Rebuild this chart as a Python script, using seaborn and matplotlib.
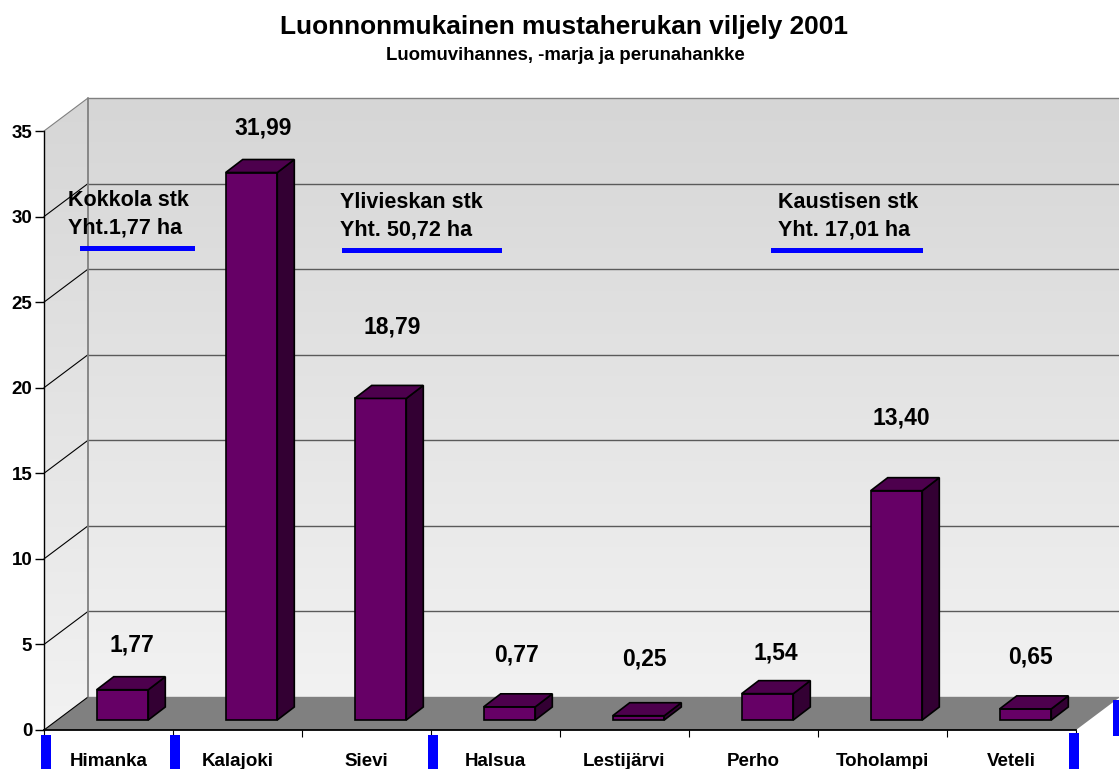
import numpy as np
import pandas as pd
import matplotlib
matplotlib.use('Agg')
import matplotlib.pyplot as plt
from matplotlib.patches import Polygon, Rectangle
import seaborn as sns

# data
places = ['Himanka', 'Kalajoki', 'Sievi', 'Halsua', 'Lestijärvi', 'Perho', 'Toholampi', 'Veteli']
hectares = [1.77, 31.99, 18.79, 0.77, 0.25, 1.54, 13.40, 0.65]
value_labels = ['1,77', '31,99', '18,79', '0,77', '0,25', '1,54', '13,40', '0,65']
y_ticks = [0, 5, 10, 15, 20, 25, 30, 35]

# label placement in pixels, relative to the bar top
label_gap = [45, 45, 71, 52, 57, 41, 73, 52]
label_shift = [9, 12, 12, 7, 6, 8, 5, 5]

W, H = 1119, 769
sns.set_theme(style='white')
plt.rcParams['font.family'] = ['Liberation Sans', 'DejaVu Sans']
plt.rcParams['font.weight'] = 'bold'

fig = plt.figure(figsize=(W / 100, H / 100), dpi=100)
ax = fig.add_axes([44 / W, (H - 730) / H, 1032 / W, 599 / H])

df = pd.DataFrame({'place': places, 'ha': hectares})
sns.barplot(data=df, x='place', y='ha', order=places, width=0.4, color='#660066',
            saturation=1, edgecolor='black', linewidth=1.2, zorder=5, ax=ax)
ax.set_xlim(-0.5, 7.5)
ax.set_ylim(0, 35)

# pixel sizes in data units, the 3d look is sheared from these
px_x = 1032 / 8
px_y = 599 / 35
wall_dx, wall_dy = 44 / px_x, 33 / px_y
shift_x, shift_y = 14 / px_x, 10 / px_y
bar_dx, bar_dy = 17 / px_x, 13 / px_y

# walls with the grey gradient
grad = np.linspace(0, 1, 256).reshape(-1, 1)
cmap = matplotlib.colors.LinearSegmentedColormap.from_list('wall', ['#d6d6d6', '#f2f2f2'])
x0, x1 = -0.5, 7.5
back = ax.imshow(grad, cmap=cmap, aspect='auto', origin='upper', zorder=1, clip_on=False,
                 extent=(x0 + wall_dx, x1 + wall_dx, wall_dy, 35 + wall_dy))
left = ax.imshow(grad, cmap=cmap, aspect='auto', origin='upper', zorder=1,
                 extent=(x0, x0 + wall_dx, 0, 35 + wall_dy))
left_shape = Polygon([(x0, 0), (x0, 35), (x0 + wall_dx, 35 + wall_dy), (x0 + wall_dx, wall_dy)],
                     transform=ax.transData, facecolor='none', edgecolor='none')
ax.add_patch(left_shape)
left.set_clip_box(fig.bbox)
left.set_clip_path(left_shape)
ax.set_xlim(-0.5, 7.5)
ax.set_ylim(0, 35)

# floor
ax.add_patch(Polygon([(x0, 0), (x1, 0), (x1 + wall_dx, wall_dy), (x0 + wall_dx, wall_dy)],
                     facecolor='#808080', edgecolor='none', zorder=2, clip_on=False))

# gridlines on the back wall and down the left wall
for v in y_ticks:
    ax.plot([x0 + wall_dx, x1 + wall_dx], [v + wall_dy, v + wall_dy], color='#5a5a5a' if 0 < v < 35 else '#808080',
            lw=1, zorder=3, clip_on=False)
    ax.plot([x0, x0 + wall_dx], [v, v + wall_dy], color='#808080' if v == 35 else 'black',
            lw=0.8, zorder=3, clip_on=False)
ax.plot([x0 + wall_dx, x0 + wall_dx], [wall_dy, 35 + wall_dy], color='#808080', lw=1.3, zorder=3, clip_on=False)

# move the bars onto the floor and add top and side faces
bars = [p for p in ax.patches if isinstance(p, Rectangle)]
for patch, value, label, gap, shift in zip(bars, hectares, value_labels, label_gap, label_shift):
    patch.set_x(patch.get_x() + shift_x)
    patch.set_y(shift_y)
    patch.set_clip_on(False)
    xa = patch.get_x()
    xb = xa + patch.get_width()
    ya = shift_y
    yb = shift_y + value
    ax.add_patch(Polygon([(xb, ya), (xb + bar_dx, ya + bar_dy), (xb + bar_dx, yb + bar_dy), (xb, yb)],
                         facecolor='#330033', edgecolor='black', lw=1.2, zorder=5, clip_on=False))
    ax.add_patch(Polygon([(xa, yb), (xb, yb), (xb + bar_dx, yb + bar_dy), (xa + bar_dx, yb + bar_dy)],
                         facecolor='#4d004d', edgecolor='black', lw=1.2, zorder=5, clip_on=False))
    ax.text(xa + patch.get_width() / 2 + shift / px_x, yb + gap / px_y, label, ha='center', va='center',
            fontsize=16.5, fontweight='bold', color='black', zorder=7, clip_on=False)

# axes
sns.despine(ax=ax)
ax.spines['left'].set_color('black')
ax.spines['bottom'].set_color('black')
ax.spines['left'].set_linewidth(1)
ax.spines['bottom'].set_linewidth(1.3)
ax.spines['left'].set_zorder(6)
ax.spines['bottom'].set_zorder(6)
ax.set_xlabel('')
ax.set_ylabel('')
ax.set_yticks(y_ticks)
ax.tick_params(axis='y', left=True, length=6.5, width=1, color='black', labelsize=13.5, pad=2)
ax.set_xticks(np.arange(-0.5, 8, 1), minor=True)
ax.tick_params(axis='x', which='major', bottom=False, labelsize=13.5, pad=10.5)
ax.tick_params(axis='x', which='minor', bottom=True, length=5, width=0.8, color='black')
for t in ax.get_xticklabels() + ax.get_yticklabels():
    t.set_fontweight('bold')
    t.set_color('black')


def to_fig(x, y):
    return x / W, (H - y) / H


# titles
fig.text(*to_fig(564, 27), 'Luonnonmukainen mustaherukan viljely 2001', ha='center', va='center',
         fontsize=18.9, fontweight='bold', color='black')
fig.text(*to_fig(565, 56), 'Luomuvihannes, -marja ja perunahankke', ha='center', va='center',
         fontsize=13.4, fontweight='bold', color='black')

# district notes
for x, y, txt in [(68, 201, 'Kokkola stk'), (68, 228, 'Yht.1,77 ha'),
                  (340, 203, 'Ylivieskan stk'), (340, 230, 'Yht. 50,72 ha'),
                  (778, 203, 'Kaustisen stk'), (778, 230, 'Yht. 17,01 ha')]:
    fig.text(*to_fig(x, y), txt, ha='left', va='center', fontsize=15.5, fontweight='bold', color='black', zorder=8)

blue = '#0000ff'
for xa, xb, y in [(80, 195, 248.5), (342, 502, 250.5), (771, 923, 250.5)]:
    fig.add_artist(Rectangle(to_fig(xa, y + 2), (xb - xa) / W, 4 / H, transform=fig.transFigure,
                             facecolor=blue, edgecolor='none', zorder=8))
for xa, xb, ya, yb in [(41, 51, 735, 769), (170, 180, 735, 769), (428, 438, 735, 769),
                       (1069, 1079, 733, 769), (1113, 1119, 700, 736)]:
    fig.add_artist(Rectangle(to_fig(xa, yb), (xb - xa) / W, (yb - ya) / H, transform=fig.transFigure,
                             facecolor=blue, edgecolor='none', zorder=8))

fig.savefig('out.png', dpi=100)
